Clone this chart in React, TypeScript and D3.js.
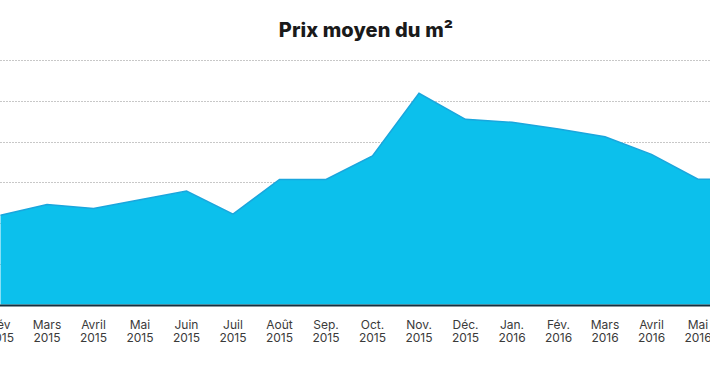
import { useEffect, useRef } from 'react'
import * as d3 from 'd3'

// months shown on the axis (two-line labels)
const months = [
    'Fév', 'Mars', 'Avril', 'Mai', 'Juin', 'Juil', 'Août', 'Sep.',
    'Oct.', 'Nov.', 'Déc.', 'Jan.', 'Fév.', 'Mars', 'Avril', 'Mai', 'Juin',
]
const years = [
    '2015', '2015', '2015', '2015', '2015', '2015', '2015', '2015',
    '2015', '2015', '2015', '2016', '2016', '2016', '2016', '2016', '2016',
]
// average price per m²
const prices = [
    1096, 1227, 1178, 1286, 1391, 1108, 1534, 1534,
    1824, 2591, 2272, 2235, 2152, 2058, 1842, 1538, 1538,
]
const gridTicks = [0, 500, 1000, 1500, 2000, 2500, 3000]

const App = () => {
    const ref = useRef<SVGSVGElement>(null)

    useEffect(() => {
        const width = 710
        const height = 375
        const svg = d3.select(ref.current)
        svg.selectAll('*').remove()

        const x = d3
            .scaleLinear()
            .domain([0, 15])
            .range([0.5, 698])
        const y = d3.scaleLinear().domain([0, 3000]).range([304.5, 60])

        // title
        svg.append('text')
            .attr('x', 366)
            .attr('y', 37)
            .attr('text-anchor', 'middle')
            .attr('font-family', 'Inter, sans-serif')
            .attr('font-weight', 800)
            .attr('font-size', 20)
            .attr('letter-spacing', 0.1)
            .attr('fill', '#1a1a1a')
            .text('Prix moyen du m²')

        // grid
        svg.append('g')
            .selectAll('line')
            .data(gridTicks.slice(1))
            .join('line')
            .attr('x1', 0)
            .attr('x2', width)
            .attr('y1', (d) => Math.round(y(d)) + 0.5)
            .attr('y2', (d) => Math.round(y(d)) + 0.5)
            .attr('stroke', '#c8c8c8')
            .attr('stroke-dasharray', '2,1')

        const idx = d3.range(prices.length)

        const area = d3
            .area<number>()
            .x((i) => x(i))
            .y0(y(0))
            .y1((i) => y(prices[i]))

        svg.append('path')
            .datum(idx)
            .attr('d', area)
            .attr('fill', '#0cc0ec')

        const line = d3
            .line<number>()
            .x((i) => x(i))
            .y((i) => y(prices[i]))

        svg.append('path')
            .datum(idx)
            .attr('d', line)
            .attr('fill', 'none')
            .attr('stroke', '#1aa6dd')
            .attr('stroke-width', 1.5)

        // baseline
        svg.append('line')
            .attr('x1', 0)
            .attr('x2', width)
            .attr('y1', y(0) + 1)
            .attr('y2', y(0) + 1)
            .attr('stroke', '#15303f')
            .attr('stroke-width', 2)

        // month labels, two separate lines
        const labels = svg
            .append('g')
            .attr('font-family', 'Inter, sans-serif')
            .attr('font-size', 12)
            .attr('fill', '#3a3a3a')
            .attr('text-anchor', 'middle')
        labels
            .selectAll('text.m')
            .data(idx)
            .join('text')
            .attr('class', 'm')
            .attr('x', (i) => x(i))
            .attr('y', 329)
            .text((i) => months[i])
        labels
            .selectAll('text.y')
            .data(idx)
            .join('text')
            .attr('class', 'y')
            .attr('x', (i) => x(i))
            .attr('y', 341.5)
            .text((i) => years[i])

        svg.attr('width', width).attr('height', height)
    }, [])

    return (
        <svg
            ref={ref}
            style={{ position: 'absolute', left: 0, top: 0, background: '#fff' }}
        />
    )
}

export default App
